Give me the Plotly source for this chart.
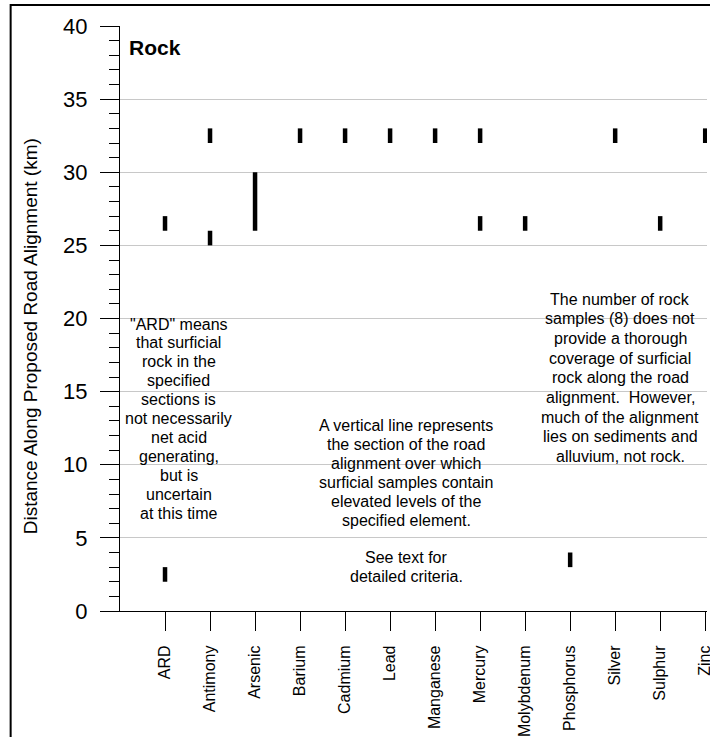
import plotly.graph_objects as go

# Elements tested in surficial rock samples
elements = ["ARD", "Antimony", "Arsenic", "Barium", "Cadmium", "Lead", "Manganese",
            "Mercury", "Molybdenum", "Phosphorus", "Silver", "Sulphur", "Zinc"]

# Sections (km) with elevated levels: element index, start km, end km
seg_element = [0, 0, 1, 1, 2, 3, 4, 5, 6, 7, 7, 8, 9, 10, 11, 12]
seg_start = [26, 2, 32, 25, 26, 32, 32, 32, 32, 32, 26, 26, 3, 32, 26, 32]
seg_end = [27, 3, 33, 26, 30, 33, 33, 33, 33, 33, 27, 27, 4, 33, 27, 33]

y_ticks = [0, 5, 10, 15, 20, 25, 30, 35, 40]

ard_note = ['"ARD" means', "that surficial", "rock in the", "specified", "sections is",
            "not necessarily", "net acid", "generating,", "but is", "uncertain", "at this time"]
line_note = ["A vertical line represents", "the section of the road", "alignment over which",
             "surficial samples contain", "elevated levels of the", "specified element.",
             "", "See text for", "detailed criteria."]
sample_note = ["The number of rock", "samples (8) does not", "provide a thorough",
               "coverage of surficial", "rock along the road", "alignment.  However,",
               "much of the alignment", "lies on sediments and", "alluvium, not rock."]

FONT = "Liberation Sans, Arial, sans-serif"

xs, ys = [], []
for e, a, b in zip(seg_element, seg_start, seg_end):
    xs += [e, e, None]
    ys += [a, b, None]

fig = go.Figure()
fig.add_trace(go.Scatter(x=xs, y=ys, mode="lines",
                         line=dict(color="black", width=4.5),
                         hoverinfo="skip", showlegend=False, cliponaxis=False))

annotations = [
    dict(text="<b>Rock</b>", xref="paper", yref="paper", x=0.012, y=0.987,
         xanchor="left", yanchor="top", showarrow=False,
         font=dict(family=FONT, size=21, color="black")),
    dict(text="Distance Along Proposed Road Alignment (km)", textangle=-90,
         xref="paper", yref="paper", x=-0.153, y=0.47,
         xanchor="center", yanchor="middle", showarrow=False,
         font=dict(family=FONT, size=19, color="black")),
]


def add_block(lines, xc, y_first, step):
    for i, t in enumerate(lines):
        if not t:
            continue
        annotations.append(dict(text=t, x=xc, y=y_first - i * step, xref="x", yref="y",
                                xanchor="center", yanchor="middle", showarrow=False,
                                font=dict(family=FONT, size=16, color="black")))


add_block(ard_note, 0.31, 19.62, 1.292)
add_block(line_note, 5.36, 12.65, 1.286)
add_block(sample_note, 10.11, 21.33, 1.347)

fig.update_layout(
    width=710, height=737,
    margin=dict(l=120, r=3, t=26, b=126),
    paper_bgcolor="white", plot_bgcolor="white",
    font=dict(family=FONT, color="black"),
    annotations=annotations,
    shapes=[dict(type="rect", xref="paper", yref="paper",
                 x0=-0.1863, x1=1.02, y0=-0.23, y1=1.0359,
                 line=dict(color="black", width=2), layer="above")],
    xaxis=dict(range=[-1, 12.04], tickmode="array", automargin=False,
               tickvals=list(range(len(elements))), ticktext=elements,
               tickangle=-90, ticks="outside", ticklen=19, tickwidth=1.2,
               tickcolor="black", showline=True, linecolor="black", linewidth=1.2,
               showgrid=False, zeroline=False, ticklabelstandoff=8,
               ticklabeloverflow="allow",
               tickfont=dict(family=FONT, size=16, color="black")),
    yaxis=dict(range=[0, 40], tickmode="array", tickvals=y_ticks, automargin=False,
               ticks="outside", ticklen=19, tickwidth=1.2, tickcolor="black",
               showline=True, linecolor="black", linewidth=1.2,
               showgrid=True, gridcolor="#c8c8c8", gridwidth=1, zeroline=False,
               ticklabelstandoff=8,
               tickfont=dict(family=FONT, size=22, color="black"),
               minor=dict(dtick=1, ticks="outside", ticklen=10, tickwidth=1.2,
                          tickcolor="black", showgrid=False)),
)

fig.write_html("out.html")
